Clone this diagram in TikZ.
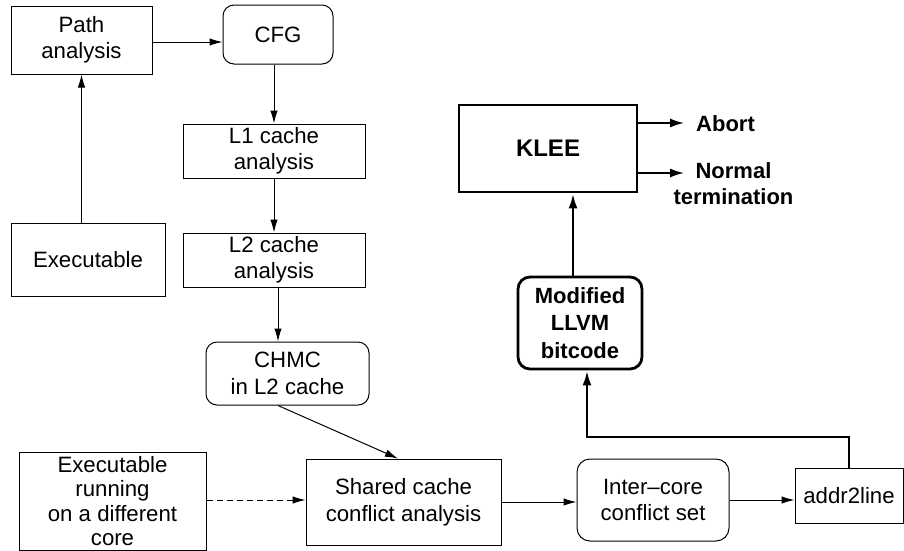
\documentclass[tikz,border=0pt]{standalone}
\usepackage{fontspec}
\setmainfont{Liberation Sans}
\usetikzlibrary{arrows.meta}

\tikzset{
  box/.style={draw, line width=1pt, inner sep=0pt, align=center,
              font=\fontsize{22.2}{26.5}\selectfont},
  rbox/.style={box, rounded corners=11pt},
  bbox/.style={draw, line width=2.8pt, inner sep=0pt, align=center,
               font=\fontsize{22}{27.5}\selectfont\bfseries},
  lbl/.style={inner sep=0pt, align=center,
              font=\fontsize{22}{26}\selectfont\bfseries},
  flow/.style={line width=1pt, -{Latex[length=13pt,width=7.5pt]}},
  bflow/.style={line width=2.8pt, -{Latex[length=15pt,width=9pt]}},
}

\begin{document}
\begin{tikzpicture}[x=1pt, y=-1pt]
  \useasboundingbox (0,0) rectangle (904,550);

  % static analysis chain
  \node[box, minimum width=141pt, minimum height=68pt] (path) at (81.5,40) {Path\\analysis};
  \node[rbox, minimum width=110pt, minimum height=59pt] (cfg) at (278,34.5) {CFG};
  \node[box, minimum width=182pt, minimum height=54pt] (l1) at (274,151) {L1 cache\\analysis};
  \node[box, minimum width=182pt, minimum height=54pt] (l2) at (274,260) {L2 cache\\analysis};
  \node[rbox, minimum width=163pt, minimum height=63pt] (chmc) at (287.5,373.5) {CHMC\\in L2 cache};
  \node[box, minimum width=154pt, minimum height=73pt] (exe) at (88,259.5) {Executable};

  % shared cache analysis row
  \node[box, minimum width=187pt, minimum height=98pt,
        font=\fontsize{22.2}{24.5}\selectfont] (exerun) at (112.5,501)
        {Executable\\running\\on a different\\core};
  \node[box, minimum width=195pt, minimum height=86pt] (shared) at (403.5,502) {Shared cache\\conflict analysis};
  \node[rbox, rounded corners=13pt, minimum width=152pt, minimum height=82pt] (inter) at (653,500) {Inter--core\\conflict set};
  \node[box, minimum width=108pt, minimum height=55pt] (addr) at (849,495.5) {addr2line};

  % symbolic execution
  \node[bbox, minimum width=178pt, minimum height=87pt,
        font=\fontsize{24}{28}\selectfont\bfseries] (klee) at (548,148.5) {KLEE};
  \node[bbox, rounded corners=12pt, minimum width=124pt, minimum height=92pt] (mod) at (580,323) {Modified\\LLVM\\bitcode};
  \node[lbl, anchor=west] (abort) at (696,124) {Abort};
  \node[lbl] (norm) at (733.5,184) {Normal\\termination};

  \coordinate (abortTip) at (685,123);
  \coordinate (normTip) at (685,173);
  \coordinate (bend) at (587,437);

  % connectors
  \draw[flow] ([yshift=-2pt]path.east) -- ([yshift=-2pt]path.east -| cfg.west);
  \draw[flow] (l1.north |- cfg.south) -- (l1.north);
  \draw[flow] (l1.south) -- (l2.north);
  \draw[flow] ([xshift=4pt]l2.south) -- ([xshift=4pt]l2.south |- chmc.north);
  \draw[flow] (path.south |- exe.north) -- (path.south);
  \draw[flow] ([xshift=-9.5pt]chmc.south) -- ([xshift=-5.5pt]shared.north);
  \draw[flow, dash pattern=on 6pt off 4pt] (exerun.east |- 0,500) -- (shared.west |- 0,500);
  \draw[flow] (shared.east) -- (shared.east -| inter.west);
  \draw[flow] (inter.east) -- (inter.east -| addr.west);

  \draw[bflow] (addr.north) |- (bend) -- (bend |- mod.south);
  \draw[bflow] ([xshift=-7pt]mod.north) -- ([xshift=-7pt]mod.north |- klee.south);
  \draw[bflow] (klee.east |- abortTip) -- (abortTip);
  \draw[bflow] (klee.east |- normTip) -- (normTip);
\end{tikzpicture}
\end{document}
